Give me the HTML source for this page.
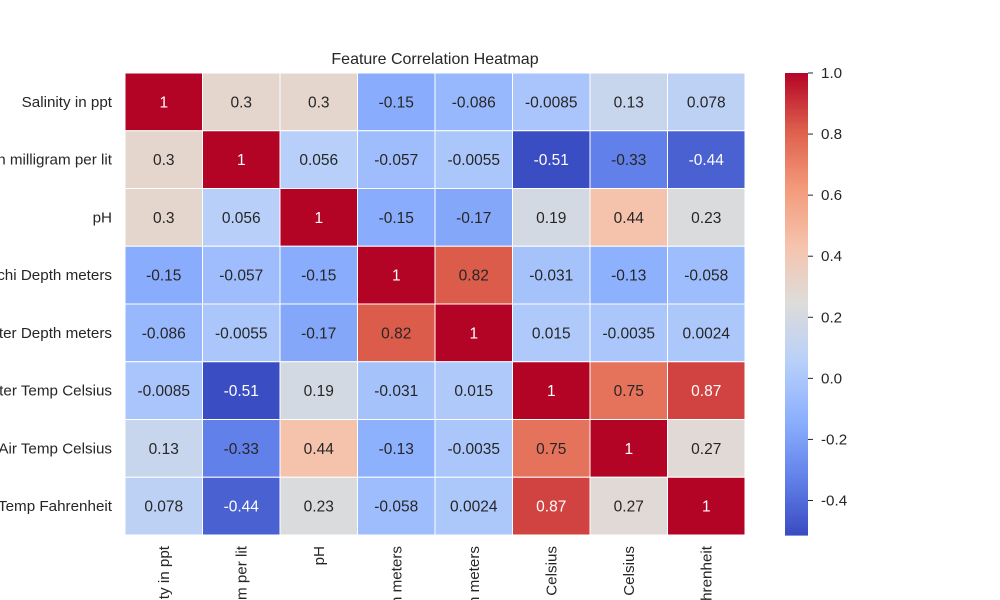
<!DOCTYPE html>
<html><head><meta charset="utf-8"><style>
html,body{margin:0;background:#fff;width:1000px;height:600px;overflow:hidden;}
svg{display:block;overflow:hidden;font-family:"Liberation Sans","DejaVu Sans",sans-serif;}
</style></head><body>
<svg id="chart" width="1000" height="600" viewBox="0 0 1000 600">
<text x="435" y="64" text-anchor="middle" font-size="16" fill="#262626">Feature Correlation Heatmap</text>
<g id="cells"></g><g id="ylabels"></g><g id="xlabels"></g><g id="cbar"></g>
</svg>
<script>
const rowLabels=["Salinity in ppt","Dissolved Oxygen in milligram per lit","pH","Secchi Depth meters","Water Depth meters","Water Temp Celsius","Air Temp Celsius","Air Temp Fahrenheit"];
const colLabels=["Salinity in ppt","Dissolved Oxygen in milligram per lit","pH","Secchi Depth meters","Water Depth meters","Water Temp Celsius","Air Temp Celsius","Air Temp Fahrenheit"];
const values=[
[1,0.3,0.3,-0.15,-0.086,-0.0085,0.13,0.078],
[0.3,1,0.056,-0.057,-0.0055,-0.51,-0.33,-0.44],
[0.3,0.056,1,-0.15,-0.17,0.19,0.44,0.23],
[-0.15,-0.057,-0.15,1,0.82,-0.031,-0.13,-0.058],
[-0.086,-0.0055,-0.17,0.82,1,0.015,-0.0035,0.0024],
[-0.0085,-0.51,0.19,-0.031,0.015,1,0.75,0.87],
[0.13,-0.33,0.44,-0.13,-0.0035,0.75,1,0.27],
[0.078,-0.44,0.23,-0.058,0.0024,0.87,0.27,1]];
const cbarTicks=[-0.4,-0.2,0.0,0.2,0.4,0.6,0.8,1.0];
const vmin=-0.513,vmax=1;
const NS="http://www.w3.org/2000/svg";
const gx0=125,gx1=745,gy0=73,gy1=535;
const cw=(gx1-gx0)/colLabels.length,ch=(gy1-gy0)/rowLabels.length;
const stops=[[58,76,193],[98,130,234],[141,176,254],[184,208,249],[221,220,219],[245,196,173],[244,154,123],[222,96,77],[180,4,38]];
function cmap(v){let t=(v-vmin)/(vmax-vmin);t=Math.max(0,Math.min(1,t));const p=t*8,i=Math.min(7,Math.floor(p)),f=p-i;return stops[i].map((c,k)=>Math.round(c+(stops[i+1][k]-c)*f));}
function mk(tag,attrs,parent){const e=document.createElementNS(NS,tag);for(const k in attrs)e.setAttribute(k,attrs[k]);parent.appendChild(e);return e;}
const cells=document.getElementById('cells');
values.forEach((row,r)=>row.forEach((v,c)=>{
 const col=cmap(v);
 const rect=mk('rect',{x:gx0+c*cw,y:gy0+r*ch,width:cw,height:ch,fill:`rgb(${col})`,stroke:'#fff','stroke-width':1},cells);
 
 
 const lum=(0.2126*col[0]+0.7152*col[1]+0.0722*col[2])/255;
 const t=mk('text',{x:gx0+(c+0.5)*cw,y:gy0+(r+0.5)*ch+5.5,'text-anchor':'middle','font-size':15.5,fill:lum<0.408?'#fff':'#262626'},cells);
 t.textContent=String(v);
 
 
}));
const yl=document.getElementById('ylabels');
rowLabels.forEach((l,r)=>{const t=mk('text',{x:112,y:gy0+(r+0.5)*ch+5,'text-anchor':'end','font-size':15.2,fill:'#262626'},yl);t.textContent=l;
 
 });
const xl=document.getElementById('xlabels');
colLabels.forEach((l,c)=>{const x=gx0+(c+0.5)*cw+5;const t=mk('text',{x:x,y:546,'text-anchor':'end','font-size':15.2,fill:'#262626',transform:`rotate(-90 ${x} 546)`},xl);t.textContent=l;
 
 });
const cb=document.getElementById('cbar');
const bx=785,bw=23,N=200;
for(let i=0;i<N;i++){const v=vmax-(vmax-vmin)*(i+0.5)/N;const r=mk('rect',{x:bx,y:gy0+i*(gy1-gy0)/N,width:bw,height:(gy1-gy0)/N+0.6,fill:`rgb(${cmap(v)})`},cb);
 
 }
function ys(v){return gy0+(vmax-v)/(vmax-vmin)*(gy1-gy0);}
cbarTicks.forEach(v=>{const y=ys(v);mk('line',{x1:bx+bw,x2:bx+bw+5,y1:y,y2:y,stroke:'#262626'},cb);
 const t=mk('text',{x:bx+bw+13,y:y+5,'font-size':15.2,fill:'#262626'},cb);t.textContent=v.toFixed(1);
 
 });
</script>
</body></html>
